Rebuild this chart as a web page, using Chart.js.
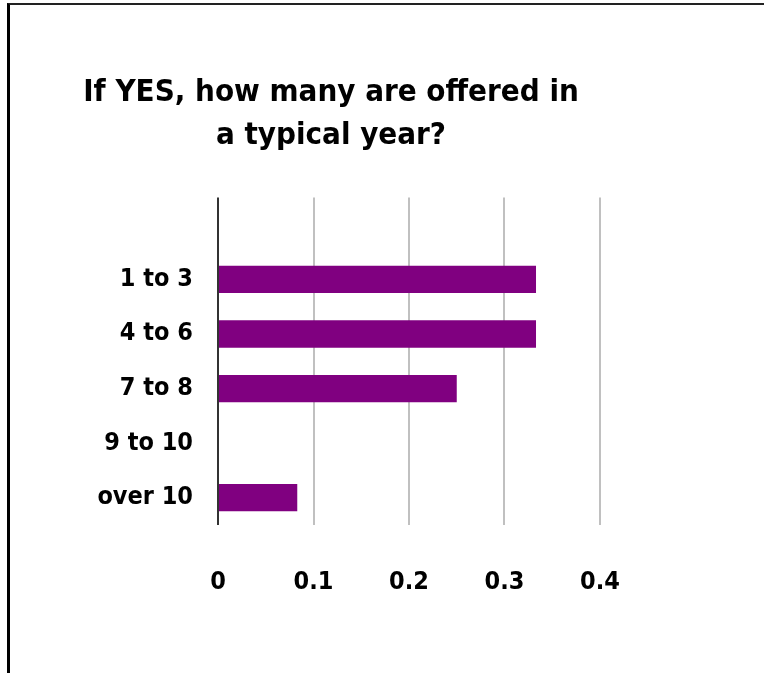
<!DOCTYPE html>
<html>
<head>
<meta charset="utf-8">
<title>Offered per year</title>
<script src="https://cdn.jsdelivr.net/npm/chart.js@4.4.1/dist/chart.umd.min.js"></script>
<style>
  html, body { margin: 0; padding: 0; background: #fff; overflow: hidden; }
  #frame {
    position: absolute; left: 7px; top: 3px; width: 800px; height: 700px;
    border-top: 2px solid #222; border-left: 3px solid #000;
  }
  #wrap { position: absolute; left: 0; top: 0; width: 662px; height: 673px; }
</style>
</head>
<body>
<div id="frame"></div>
<div id="wrap"><canvas id="myChart" width="662" height="673"></canvas></div>
<script>
// answer buckets (blank slot on top keeps the gap above the first bar)
const categories = ['', '1 to 3', '4 to 6', '7 to 8', '9 to 10', 'over 10'];
const shares = [null, 0.333, 0.333, 0.25, 0, 0.083];
const titleLines = ['If YES, how many are offered in', 'a typical year?'];
const xTicks = { min: 0, max: 0.4, step: 0.1 };

const FONT = '"DejaVu Sans Condensed", "DejaVu Sans", Arial';
const ctx = document.getElementById('myChart').getContext('2d');

const config = {
  type: 'bar',
  data: {
    labels: categories,
    datasets: [{
      data: shares,
      backgroundColor: '#800080',
      borderWidth: 0,
      barPercentage: 0.5,
      categoryPercentage: 1
    }]
  },
  options: {
    responsive: false,
    animation: false,
    indexAxis: 'y',
    layout: { padding: { left: 62, right: 62, top: 0, bottom: 34 } },
    plugins: {
      legend: { display: false },
      tooltip: { enabled: false },
      title: {
        display: true,
        text: titleLines,
        color: '#000',
        font: { family: FONT, size: 31, weight: 'bold', lineHeight: 1.38 },
        padding: { top: 72, bottom: 40 }
      }
    },
    scales: {
      x: {
        min: xTicks.min,
        max: xTicks.max,
        border: { display: false },
        grid: {
          drawTicks: false,
          lineWidth: 2,
          color: (c) => c.tick && c.tick.value === 0 ? '#333' : '#c0c0c0'
        },
        ticks: {
          stepSize: xTicks.step,
          padding: 42,
          color: '#000',
          font: { family: FONT, size: 25, weight: 'bold' }
        }
      },
      y: {
        border: { display: false },
        grid: { display: false, drawTicks: false },
        afterFit: (scale) => { scale.width = 156; },
        ticks: {
          padding: 25,
          color: '#000',
          font: { family: FONT, size: 25, weight: 'bold' }
        }
      }
    }
  }
};

const myChart = new Chart(ctx, config);
</script>
</body>
</html>
